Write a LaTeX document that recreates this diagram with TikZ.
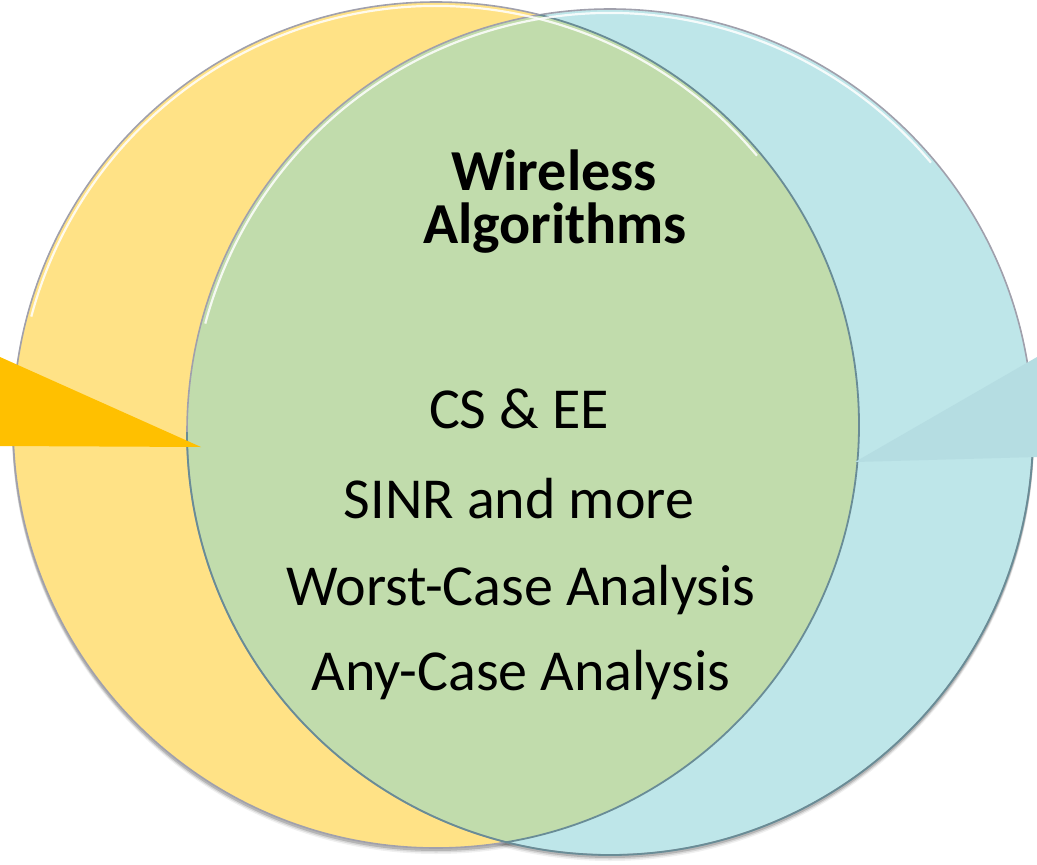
\documentclass[tikz,border=0pt]{standalone}
\usepackage{fontspec}
\setmainfont{Carlito}
\definecolor{setyellow}{RGB}{255,226,134}
\definecolor{setblue}{RGB}{190,230,233}
\definecolor{setgreen}{RGB}{193,220,172}
\definecolor{wedgeorange}{RGB}{255,192,0}
\definecolor{wedgeblue}{RGB}{181,221,226}
\definecolor{rimgray}{RGB}{160,160,172}
\definecolor{rimblue}{RGB}{105,140,150}
\tikzset{
  label text/.style={font=\fontsize{58}{62}\selectfont, anchor=base, inner sep=0pt},
  title text/.style={label text, font=\fontsize{58}{62}\selectfont\bfseries},
}
\begin{document}
\begin{tikzpicture}[x=1pt,y=-1pt]
\useasboundingbox (0,0) rectangle (1037,865);
\coordinate (yc) at (436,425);
\coordinate (bc) at (610,432);
% soft shadows under the two sets
\foreach \d/\o in {5/0.06,3.5/0.10,2/0.16}{
  \fill[black,opacity=\o] ([yshift=-\d pt]yc) circle[radius=424pt];
  \fill[black,opacity=\o] ([yshift=-\d pt]bc) circle[radius=424pt];
}
% the two sets
\fill[setyellow] (yc) circle[radius=423pt];
\draw[rimgray,line width=1.6pt] (yc) circle[radius=423pt];
\fill[setblue] (bc) circle[radius=423pt];
% intersection
\begin{scope}
  \clip (yc) circle[radius=423pt];
  \fill[setgreen] (bc) circle[radius=423pt];
\end{scope}
\draw[rimgray,line width=1.6pt] (bc) circle[radius=423pt];
\begin{scope}
  \clip (bc) circle[radius=423pt];
  \draw[rimblue,line width=1.8pt] (yc) circle[radius=423pt];
\end{scope}
\begin{scope}
  \clip (0,432) rectangle (1037,865);
  \draw[rimblue,line width=1.8pt] (bc) circle[radius=423pt];
\end{scope}
% light rims along the upper edges
\draw[white,opacity=0.85,line width=2.2pt] ([shift={(165:419pt)}]yc) arc[start angle=165,end angle=40,radius=419pt];
\draw[white,opacity=0.85,line width=2.2pt] ([shift={(165:419pt)}]bc) arc[start angle=165,end angle=40,radius=419pt];
% pointer wedges
\fill[wedgeorange] (0,357) -- (201,447) -- (0,446) -- cycle;
\fill[wedgeblue] (1037,357) -- (855,462) -- (1037,457) -- cycle;
% labels
\node[title text] (t1) at (554,190) {Wireless};
\node[title text] (t2) at (555,243) {Algorithms};
\node[label text] (l1) at (519,428) {CS \& EE};
\node[label text] (l2) at (519,518) {SINR and more};
\node[label text] (l3) at (521,605) {Worst-Case Analysis};
\node[label text] (l4) at (521,690) {Any-Case Analysis};
\end{tikzpicture}
\end{document}
